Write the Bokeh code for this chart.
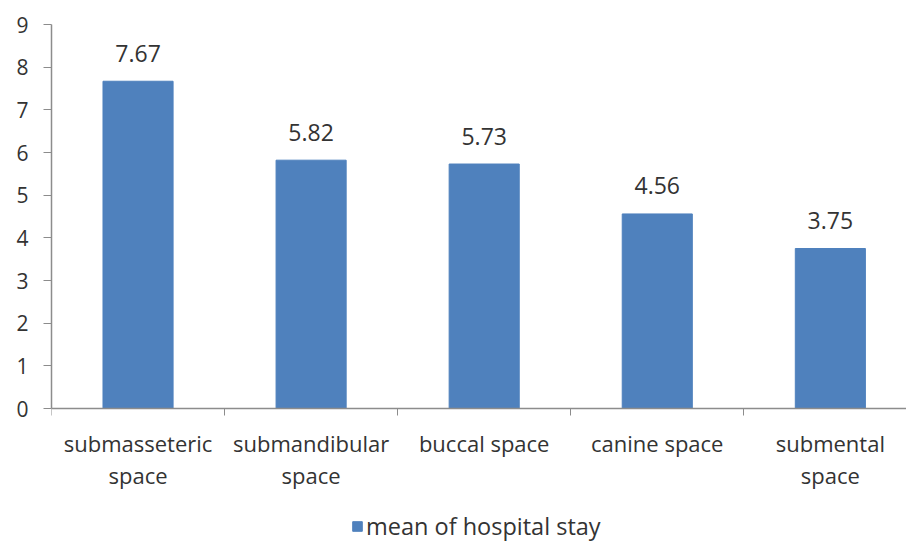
from bokeh.plotting import figure
from bokeh.models import (ColumnDataSource, FixedTicker, LabelSet, Legend, LegendItem,
                          LinearAxis, Range1d)
from bokeh.core.properties import value
from bokeh.embed import file_html
from bokeh.resources import INLINE

# Mean length of hospital stay (days) by infected fascial space
categories = ["submasseteric space", "submandibular space", "buccal space",
              "canine space", "submental space"]
tick_labels = ["submasseteric\nspace", "submandibular\nspace", "buccal space",
               "canine space", "submental\nspace"]
mean_stay = [7.67, 5.82, 5.73, 4.56, 3.75]
y_ticks = [0, 1, 2, 3, 4, 5, 6, 7, 8, 9]
series_name = "mean of hospital stay"

FONT = "Open Sans"
TEXT = "#333333"
AXIS = "#8c8c8c"
BAR = "#4f81bd"

# plot area: 384 px for the 0..9 value scale, 134 px below it for labels
PX_PER_UNIT = 384 / 9
Y_BOTTOM = -134 / PX_PER_UNIT

centers = [i + 0.5 for i in range(len(categories))]
src = ColumnDataSource(dict(x=centers, top=mean_stay,
                            label=[f"{v:.2f}" for v in mean_stay]))

p = figure(frame_width=855, frame_height=518,
           output_backend="svg", toolbar_location=None,
           x_range=Range1d(0, 4.94), y_range=Range1d(Y_BOTTOM, 9),
           x_axis_location=None,
           min_border_left=51, min_border_right=0,
           min_border_top=24, min_border_bottom=0)
p.outline_line_color = None
p.xgrid.grid_line_color = None
p.ygrid.grid_line_color = None
p.background_fill_color = "white"
p.border_fill_color = "white"

bars = p.vbar(x="x", top="top", width=0.405, bottom=0, source=src,
              fill_color=BAR, line_color=BAR)

# value labels above each bar
p.add_layout(LabelSet(x="x", y="top", text="label", source=src,
                      y_offset=28, text_align="center", text_baseline="middle",
                      text_font=value(FONT), text_font_size="23px",
                      text_color=TEXT))

# x axis at y = 0: labels at bar centres, tick marks at category boundaries
xa = LinearAxis(fixed_location=0)
xa.ticker = FixedTicker(ticks=centers,
                        minor_ticks=list(range(len(categories) + 1)))
xa.major_label_overrides = {c: t for c, t in zip(centers, tick_labels)}
xa.major_tick_line_color = None
xa.minor_tick_out = 7
xa.minor_tick_in = 0
xa.minor_tick_line_color = AXIS
xa.axis_line_color = AXIS
xa.axis_line_width = 1.5
xa.major_label_standoff = 12
xa.major_label_text_font = FONT
xa.major_label_text_font_size = "22px"
xa.major_label_text_color = TEXT
xa.major_label_text_line_height = 1.07
p.add_layout(xa, "below")

ya = p.yaxis[0]
ya.ticker = FixedTicker(ticks=y_ticks)
ya.bounds = (0, 9)
ya.major_tick_out = 8
ya.major_tick_in = 0
ya.minor_tick_line_color = None
ya.major_tick_line_color = AXIS
ya.axis_line_color = AXIS
ya.axis_line_width = 1.5
ya.major_label_standoff = 15
ya.major_label_text_font = FONT
ya.major_label_text_font_size = "21px"
ya.major_label_text_color = TEXT

legend = Legend(items=[LegendItem(label=series_name, renderers=[bars])],
                location=(300, 0), orientation="horizontal",
                glyph_width=12, glyph_height=12, label_standoff=3,
                padding=0, margin=0, spacing=0,
                border_line_color=None, background_fill_alpha=0,
                label_text_font=FONT, label_text_font_size="23.5px",
                label_text_color=TEXT)
p.add_layout(legend)

open("out.html", "w").write(file_html(p, INLINE))
